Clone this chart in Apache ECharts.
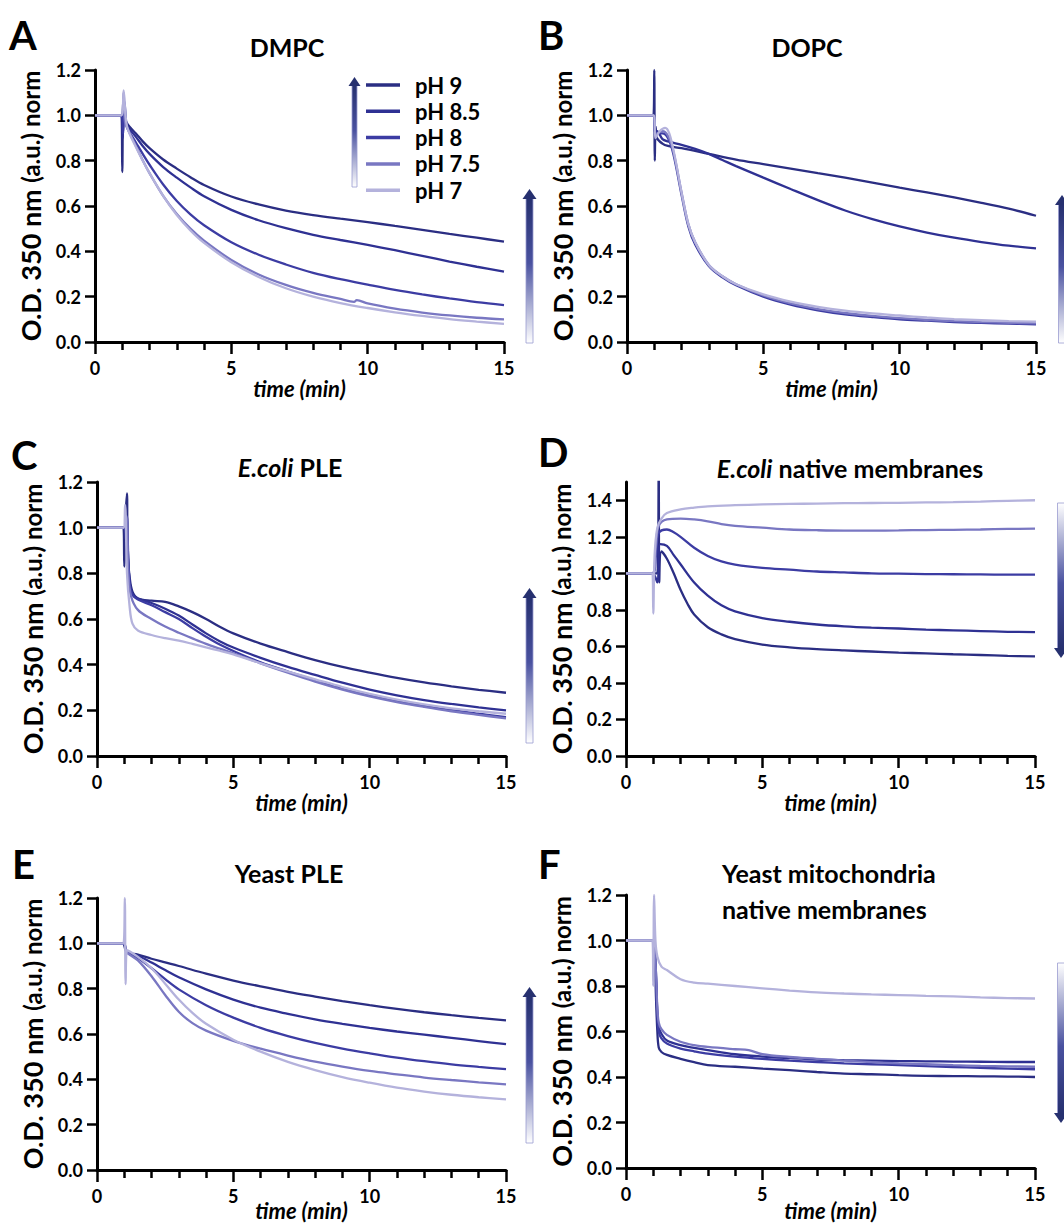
<!DOCTYPE html>
<html><head><meta charset="utf-8">
<script src="https://cdn.jsdelivr.net/npm/echarts@6/dist/echarts.min.js"></script>
<style>html,body{margin:0;padding:0;background:#fff}#c{width:1064px;height:1228px}</style>
</head><body><div id="c"></div><script>
// ---------- DATA ----------
const phNames = ['pH 9', 'pH 8.5', 'pH 8', 'pH 7.5', 'pH 7'];
const xTicks = [0, 5, 10, 15];
const yTicks = [0, 0.2, 0.4, 0.6, 0.8, 1.0, 1.2];
const yTicksD = [0, 0.2, 0.4, 0.6, 0.8, 1.0, 1.2, 1.4];
const panelTitles = ['DMPC', 'DOPC', '{i|E.coli} PLE', '{i|E.coli} native membranes', 'Yeast PLE', 'Yeast mitochondria\nnative membranes'];
const panelLetters = ['A', 'B', 'C', 'D', 'E', 'F'];

// A: DMPC  [time (min), O.D. norm]
const dmpc9 = [[0,1],[0.5,1],[0.97,1],[1.0,0.75],[1.04,1.08],[1.1,0.99],[1.2,0.96],[1.5,0.92],[1.75,0.885],[2,0.855],[2.5,0.805],[3,0.765],[3.5,0.727],[4,0.693],[5,0.642],[6,0.607],[7,0.58],[8,0.56],[9,0.544],[10,0.529],[11,0.512],[12,0.495],[13,0.477],[14,0.46],[15,0.443]];
const dmpc85 = [[0,1],[0.5,1],[0.97,1],[1.02,0.9],[1.06,1.05],[1.12,0.97],[1.2,0.95],[1.5,0.905],[1.75,0.865],[2,0.83],[2.5,0.772],[3,0.725],[3.5,0.682],[4,0.643],[5,0.583],[6,0.537],[7,0.502],[8,0.473],[9,0.45],[10,0.428],[11,0.405],[12,0.38],[13,0.355],[14,0.332],[15,0.31]];
const dmpc8 = [[0,1],[0.5,1],[0.97,1],[1.03,0.92],[1.08,1.06],[1.15,0.96],[1.2,0.94],[1.5,0.88],[1.75,0.83],[2,0.782],[2.5,0.695],[3,0.622],[3.5,0.563],[4,0.515],[5,0.44],[6,0.385],[7,0.342],[8,0.305],[9,0.277],[10,0.253],[11,0.23],[12,0.21],[13,0.192],[14,0.176],[15,0.163]];
const dmpc75 = [[0,1],[0.5,1],[0.97,1],[1.05,1.1],[1.1,0.97],[1.2,0.94],[1.5,0.865],[1.75,0.802],[2,0.745],[2.5,0.645],[3,0.565],[3.5,0.5],[4,0.447],[5,0.362],[6,0.298],[7,0.252],[8,0.217],[9,0.19],[9.5,0.177],[9.6,0.185],[10,0.17],[11,0.147],[12,0.13],[13,0.117],[14,0.107],[15,0.1]];
const dmpc7 = [[0,1],[0.5,1],[0.97,1],[1.05,1.11],[1.12,1.0],[1.2,0.94],[1.5,0.86],[1.75,0.8],[2,0.745],[2.5,0.645],[3,0.56],[3.5,0.492],[4,0.437],[5,0.352],[6,0.287],[7,0.237],[8,0.2],[9,0.172],[10,0.15],[11,0.131],[12,0.115],[13,0.101],[14,0.09],[15,0.08]];

// B: DOPC
const dopc9 = [[0,1],[0.5,1],[0.97,1],[1.0,1.2],[1.02,0.8],[1.05,0.95],[1.1,0.9],[1.3,0.875],[1.5,0.865],[2,0.855],[3,0.83],[4,0.805],[5,0.785],[6,0.765],[7,0.745],[8,0.725],[9,0.703],[10,0.681],[11,0.66],[12,0.638],[13,0.614],[14,0.588],[15,0.557]];
const dopc85 = [[0,1],[0.5,1],[0.97,1],[1.03,0.92],[1.1,0.93],[1.3,0.895],[1.5,0.885],[2,0.87],[2.5,0.852],[3,0.83],[3.5,0.803],[4,0.776],[5,0.725],[6,0.675],[7,0.626],[8,0.58],[9,0.542],[10,0.51],[11,0.483],[12,0.46],[13,0.441],[14,0.425],[15,0.413]];
const dopc8 = [[0,1],[0.5,1],[0.97,1],[1.03,0.93],[1.1,0.92],[1.3,0.92],[1.5,0.9],[1.7,0.83],[2,0.65],[2.25,0.51],[2.5,0.43],[3,0.335],[3.5,0.285],[4,0.25],[5,0.2],[6,0.165],[7,0.14],[8,0.122],[9,0.11],[10,0.1],[11,0.094],[12,0.088],[13,0.084],[14,0.081],[15,0.078]];
const dopc75 = [[0,1],[0.5,1],[0.97,1],[1.04,0.9],[1.1,0.92],[1.3,0.93],[1.5,0.91],[1.7,0.84],[2,0.66],[2.25,0.52],[2.5,0.44],[3,0.34],[3.5,0.29],[4,0.255],[5,0.205],[6,0.17],[7,0.145],[8,0.128],[9,0.115],[10,0.105],[11,0.098],[12,0.092],[13,0.088],[14,0.085],[15,0.082]];
const dopc7 = [[0,1],[0.5,1],[0.97,1],[1.05,0.9],[1.2,0.93],[1.4,0.945],[1.55,0.92],[1.75,0.82],[2,0.66],[2.25,0.52],[2.5,0.44],[3,0.34],[3.5,0.29],[4,0.255],[5,0.21],[6,0.178],[7,0.155],[8,0.138],[9,0.126],[10,0.117],[11,0.108],[12,0.101],[13,0.096],[14,0.092],[15,0.09]];

// C: E.coli PLE
const ecple9 = [[0,1],[0.5,1],[0.97,1],[1.0,0.83],[1.05,1.05],[1.1,1.15],[1.12,0.9],[1.2,0.78],[1.3,0.72],[1.5,0.69],[2,0.68],[2.5,0.675],[3,0.655],[3.5,0.63],[4,0.6],[4.5,0.566],[5,0.537],[6,0.492],[7,0.455],[8,0.42],[9,0.39],[10,0.365],[11,0.342],[12,0.322],[13,0.305],[14,0.29],[15,0.277]];
const ecple85 = [[0,1],[0.5,1],[0.97,1],[1.05,0.95],[1.1,1.05],[1.15,0.85],[1.2,0.76],[1.3,0.71],[1.5,0.69],[2,0.67],[2.5,0.645],[3,0.615],[3.5,0.576],[4,0.537],[4.5,0.503],[5,0.475],[6,0.43],[7,0.39],[8,0.355],[9,0.321],[10,0.291],[11,0.266],[12,0.245],[13,0.228],[14,0.213],[15,0.2]];
const ecple8 = [[0,1],[0.5,1],[0.97,1],[1.1,0.95],[1.2,0.75],[1.3,0.705],[1.5,0.685],[2,0.66],[2.5,0.63],[3,0.6],[3.5,0.56],[4,0.522],[4.5,0.488],[5,0.46],[6,0.41],[7,0.37],[8,0.332],[9,0.297],[10,0.266],[11,0.241],[12,0.22],[13,0.201],[14,0.185],[15,0.17]];
const ecple75 = [[0,1],[0.5,1],[0.97,1],[1.08,1.05],[1.15,0.8],[1.25,0.7],[1.5,0.64],[2,0.6],[2.5,0.567],[3,0.54],[3.5,0.515],[4,0.491],[4.5,0.47],[5,0.45],[6,0.406],[7,0.365],[8,0.326],[9,0.291],[10,0.261],[11,0.236],[12,0.215],[13,0.196],[14,0.18],[15,0.165]];
const ecple7 = [[0,1],[0.5,1],[0.97,1],[1.03,1.1],[1.1,0.8],[1.2,0.65],[1.3,0.58],[1.5,0.55],[2,0.53],[2.5,0.516],[3,0.505],[3.5,0.491],[4,0.476],[4.5,0.461],[5,0.445],[6,0.406],[7,0.37],[8,0.336],[9,0.302],[10,0.272],[11,0.247],[12,0.226],[13,0.209],[14,0.196],[15,0.185]];

// D: E.coli native membranes
const ecnm9 = [[0,1],[0.5,1],[0.97,1],[1.15,1.0],[1.2,1.6],[1.22,0.95],[1.3,1.12],[1.5,1.08],[1.75,1.0],[2,0.91],[2.25,0.835],[2.5,0.775],[3,0.705],[3.5,0.666],[4,0.64],[5,0.61],[6,0.595],[7,0.585],[8,0.578],[9,0.572],[10,0.566],[11,0.562],[12,0.557],[13,0.553],[14,0.548],[15,0.545]];
const ecnm85 = [[0,1],[0.5,1],[0.97,1],[1.15,0.95],[1.25,1.16],[1.5,1.15],[1.75,1.1],[2,1.05],[2.5,0.95],[3,0.878],[3.5,0.825],[4,0.792],[5,0.755],[6,0.735],[7,0.72],[8,0.71],[9,0.703],[10,0.698],[11,0.692],[12,0.688],[13,0.684],[14,0.68],[15,0.678]];
const ecnm8 = [[0,1],[0.5,1],[0.97,1],[1.1,1.1],[1.2,1.22],[1.5,1.24],[1.75,1.225],[2,1.2],[2.5,1.14],[3,1.095],[3.5,1.065],[4,1.048],[5,1.03],[6,1.02],[7,1.01],[8,1.005],[9,1.0],[10,0.998],[11,0.996],[12,0.995],[13,0.994],[14,0.993],[15,0.993]];
const ecnm75 = [[0,1],[0.5,1],[0.97,1],[1.1,1.15],[1.2,1.26],[1.5,1.295],[2,1.3],[2.5,1.295],[3,1.285],[3.5,1.27],[4,1.26],[5,1.25],[6,1.24],[7,1.236],[8,1.234],[9,1.234],[10,1.235],[11,1.237],[12,1.238],[13,1.24],[14,1.243],[15,1.245]];
const ecnm7 = [[0,1],[0.5,1],[0.97,1],[1.0,0.78],[1.05,1.1],[1.15,1.25],[1.3,1.3],[1.5,1.33],[2,1.35],[2.5,1.36],[3,1.367],[4,1.373],[5,1.377],[6,1.38],[7,1.382],[8,1.384],[9,1.385],[10,1.386],[11,1.388],[12,1.39],[13,1.393],[14,1.397],[15,1.4]];

// E: Yeast PLE
const yple9 = [[0,1],[0.5,1],[0.97,1],[1.0,0.99],[1.1,0.96],[1.5,0.95],[2,0.932],[2.5,0.916],[3,0.9],[4,0.866],[5,0.836],[6,0.81],[7,0.786],[8,0.765],[9,0.745],[10,0.727],[11,0.711],[12,0.696],[13,0.683],[14,0.671],[15,0.66]];
const yple85 = [[0,1],[0.5,1],[0.97,1],[1.1,0.96],[1.5,0.945],[2,0.915],[2.5,0.882],[3,0.85],[4,0.797],[5,0.752],[6,0.716],[7,0.689],[8,0.665],[9,0.645],[10,0.627],[11,0.611],[12,0.597],[13,0.583],[14,0.569],[15,0.555]];
const yple8 = [[0,1],[0.5,1],[0.97,1],[1.1,0.96],[1.5,0.935],[2,0.89],[2.5,0.842],[3,0.797],[4,0.727],[5,0.672],[6,0.627],[7,0.591],[8,0.561],[9,0.536],[10,0.515],[11,0.496],[12,0.48],[13,0.466],[14,0.455],[15,0.445]];
const yple75 = [[0,1],[0.5,1],[0.97,1],[1.1,0.96],[1.5,0.925],[2,0.855],[2.5,0.772],[3,0.698],[3.5,0.648],[4,0.615],[5,0.57],[6,0.535],[7,0.505],[8,0.478],[9,0.456],[10,0.437],[11,0.422],[12,0.408],[13,0.397],[14,0.387],[15,0.378]];
const yple7 = [[0,1],[0.5,1],[0.97,1],[1.02,1.2],[1.05,0.82],[1.1,0.97],[1.5,0.94],[2,0.89],[2.5,0.822],[3,0.752],[3.5,0.693],[4,0.645],[5,0.575],[6,0.522],[7,0.477],[8,0.441],[9,0.41],[10,0.385],[11,0.363],[12,0.346],[13,0.332],[14,0.321],[15,0.312]];

// F: Yeast mitochondria native membranes
const ymnm9 = [[0,1],[0.5,1],[0.97,1],[1.05,0.95],[1.1,0.75],[1.15,0.6],[1.2,0.53],[1.3,0.51],[1.5,0.497],[2,0.48],[2.5,0.465],[3,0.452],[4,0.445],[5,0.437],[6,0.43],[7,0.422],[8,0.415],[9,0.412],[10,0.408],[11,0.405],[12,0.404],[13,0.403],[14,0.402],[15,0.4]];
const ymnm85 = [[0,1],[0.5,1],[0.97,1],[1.08,0.9],[1.15,0.68],[1.2,0.62],[1.3,0.59],[1.5,0.56],[2,0.54],[2.5,0.528],[3,0.518],[4,0.5],[5,0.49],[6,0.483],[7,0.477],[8,0.474],[9,0.472],[10,0.47],[11,0.469],[12,0.468],[13,0.467],[14,0.466],[15,0.466]];
const ymnm8 = [[0,1],[0.5,1],[0.97,1],[1.08,0.88],[1.15,0.67],[1.2,0.6],[1.3,0.57],[1.5,0.547],[2,0.525],[2.5,0.513],[3,0.503],[4,0.49],[5,0.48],[6,0.472],[7,0.466],[8,0.46],[9,0.456],[10,0.452],[11,0.448],[12,0.444],[13,0.44],[14,0.437],[15,0.434]];
const ymnm75 = [[0,1],[0.5,1],[0.97,1],[1.08,0.9],[1.15,0.7],[1.2,0.64],[1.3,0.61],[1.5,0.585],[2,0.555],[2.5,0.54],[3,0.532],[4,0.522],[4.5,0.518],[5,0.5],[6,0.488],[7,0.48],[8,0.472],[9,0.465],[10,0.46],[11,0.456],[12,0.452],[13,0.449],[14,0.447],[15,0.445]];
const ymnm7 = [[0,1],[0.5,1],[0.97,1],[1.0,0.8],[1.03,1.2],[1.08,1.0],[1.15,0.93],[1.3,0.885],[1.5,0.87],[2,0.83],[2.5,0.815],[3,0.81],[4,0.8],[5,0.79],[6,0.78],[7,0.772],[8,0.767],[9,0.763],[10,0.76],[11,0.757],[12,0.754],[13,0.75],[14,0.747],[15,0.745]];

const panelSeries = [
  [dmpc9, dmpc85, dmpc8, dmpc75, dmpc7],
  [dopc9, dopc85, dopc8, dopc75, dopc7],
  [ecple9, ecple85, ecple8, ecple75, ecple7],
  [ecnm9, ecnm85, ecnm8, ecnm75, ecnm7],
  [yple9, yple85, yple8, yple75, yple7],
  [ymnm9, ymnm85, ymnm8, ymnm75, ymnm7]
];
const panelYMax = [1.2, 1.2, 1.2, 1.5, 1.2, 1.2];
const panelYTicks = [yTicks, yTicks, yTicks, yTicksD, yTicks, yTicks];

// ---------- STYLE / LAYOUT ----------
const FONT = 'Lato';
const phColors = ['#2b2e83', '#2f3193', '#3c3ca3', '#7977c2', '#b4b2dc'];
const grids = [
  {left: 95, top: 70, width: 409, height: 272},
  {left: 627, top: 70, width: 409, height: 272},
  {left: 97, top: 482, width: 409, height: 274},
  {left: 626, top: 482, width: 409, height: 274},
  {left: 97, top: 898, width: 409, height: 272},
  {left: 626, top: 895, width: 409, height: 273}
];
const xNameGaps = [35, 35, 35, 35, 29, 31];
const black = '#000';

const option = {
  backgroundColor: '#fff',
  animation: false,
  grid: grids.map(g => Object.assign({containLabel: false, outerBoundsMode: 'none'}, g)),
  xAxis: grids.map((g, i) => ({
    type: 'value', gridIndex: i, min: xTicks[0], max: xTicks[xTicks.length - 1], interval: 5,
    axisLine: {onZero: false, lineStyle: {color: black, width: 3}},
    axisTick: {length: 12, lineStyle: {color: black, width: 2.5}},
    minorTick: {show: true, splitNumber: 5, length: 8, lineStyle: {color: black, width: 2.5}},
    splitLine: {show: false}, minorSplitLine: {show: false},
    axisLabel: {color: black, fontFamily: FONT, fontWeight: 'bold', fontSize: 18, margin: 17},
    name: 'time (min)', nameLocation: 'middle', nameGap: xNameGaps[i], nameMoveOverlap: false,
    nameTextStyle: {color: black, fontFamily: FONT, fontWeight: 'bold', fontStyle: 'italic', fontSize: 22, lineHeight: 22}
  })),
  yAxis: grids.map((g, i) => ({
    type: 'value', gridIndex: i, min: 0, max: panelYMax[i], interval: 0.2,
    axisLine: {show: true, lineStyle: {color: black, width: 3}},
    axisTick: {show: true, length: 10, lineStyle: {color: black, width: 2.5}, customValues: panelYTicks[i]},
    splitLine: {show: false},
    axisLabel: {color: black, fontFamily: FONT, fontWeight: 'bold', fontSize: 18, margin: 14,
      customValues: panelYTicks[i], formatter: v => v.toFixed(1)},
    name: '{a|O.D. 350 nm} {b|(a.u.) norm}', nameLocation: 'middle', nameGap: 51, nameRotate: 90, nameMoveOverlap: false,
    nameTextStyle: {color: black, fontFamily: FONT, fontWeight: 'bold', fontSize: 27,
      rich: {a: {fontFamily: FONT, fontWeight: 'bold', fontSize: 27, color: black},
             b: {fontFamily: FONT, fontWeight: 'bold', fontSize: 24, color: black}}}
  })),
  legend: {
    data: phNames, orient: 'vertical', left: 366, top: 74, padding: 0,
    itemWidth: 34, itemHeight: 3.5, itemGap: 4.3, icon: 'rect', selectedMode: false,
    textStyle: {color: black, fontFamily: FONT, fontWeight: 'bold', fontSize: 22, lineHeight: 20, padding: [0, 0, 0, 10]}
  },
  series: [],
  graphic: []
};

panelSeries.forEach((list, p) => {
  list.forEach((data, k) => {
    option.series.push({
      type: 'line', name: phNames[k], xAxisIndex: p, yAxisIndex: p, data: data,
      symbol: 'none', smooth: 0.35, clip: true, silent: true,
      lineStyle: {color: phColors[k], width: 2.3}, itemStyle: {color: phColors[k]},
      emphasis: {disabled: true}
    });
  });
});

// Titles and panel letters (graphic text)
const titlePos = [
  {x: 287, y: 47, align: 'center'}, {x: 807, y: 47, align: 'center'},
  {x: 290, y: 467, align: 'center'}, {x: 850, y: 468, align: 'center'},
  {x: 289, y: 873, align: 'center'}, {x: 722, y: 891, align: 'left'}
];
const letterPos = [{x: 9, y: 35}, {x: 538, y: 35}, {x: 11, y: 455}, {x: 538, y: 452}, {x: 12, y: 864}, {x: 538, y: 864}];
titlePos.forEach((tp, i) => {
  option.graphic.push({
    type: 'text', x: tp.x, y: tp.y, silent: true,
    style: {text: panelTitles[i], x: 0, y: 0, align: tp.align, verticalAlign: 'middle',
      textAlign: tp.align, textVerticalAlign: 'middle',
      fontFamily: FONT, fontWeight: 'bold', fontSize: 25, lineHeight: 36, fill: black,
      rich: {i: {fontFamily: FONT, fontWeight: 'bold', fontStyle: 'italic', fontSize: 25, fill: black}}}
  });
});
letterPos.forEach((lp, i) => {
  option.graphic.push({
    type: 'text', x: lp.x, y: lp.y, silent: true,
    style: {text: panelLetters[i], align: 'left', verticalAlign: 'middle', textAlign: 'left', textVerticalAlign: 'middle',
      fontFamily: FONT, fontWeight: 'bold', fontSize: 40, fill: black}
  });
});

// Gradient arrows (decoration)
function arrow(cx, yTop, yBot, up, shaftW, headW, headH) {
  const dark = '#26306f', light = '#ffffff';
  const grad = up
    ? {type: 'linear', x: 0, y: 0, x2: 0, y2: 1, colorStops: [{offset: 0, color: dark}, {offset: 0.45, color: '#4a52a0'}, {offset: 1, color: light}]}
    : {type: 'linear', x: 0, y: 0, x2: 0, y2: 1, colorStops: [{offset: 0, color: light}, {offset: 0.55, color: '#4a52a0'}, {offset: 1, color: dark}]};
  const children = [];
  if (up) {
    children.push({type: 'rect', shape: {x: cx - shaftW / 2, y: yTop + headH - 1, width: shaftW, height: yBot - yTop - headH + 1},
      style: {fill: grad, stroke: '#9a9cd0', lineWidth: 0.8}});
    children.push({type: 'polygon', shape: {points: [[cx - headW / 2, yTop + headH], [cx, yTop], [cx + headW / 2, yTop + headH]]},
      style: {fill: dark}});
  } else {
    children.push({type: 'rect', shape: {x: cx - shaftW / 2, y: yTop, width: shaftW, height: yBot - yTop - headH + 1},
      style: {fill: grad, stroke: '#9a9cd0', lineWidth: 0.8}});
    children.push({type: 'polygon', shape: {points: [[cx - headW / 2, yBot - headH], [cx, yBot], [cx + headW / 2, yBot - headH]]},
      style: {fill: dark}});
  }
  return {type: 'group', silent: true, children: children};
}
option.graphic.push(arrow(354.5, 77, 187, true, 5, 12, 9));
option.graphic.push(arrow(529.5, 189, 343, true, 7, 14, 10));
option.graphic.push(arrow(1062, 195, 343, true, 7, 14, 10));
option.graphic.push(arrow(529.5, 588, 743, true, 7, 14, 10));
option.graphic.push(arrow(1061, 503, 658, false, 7, 14, 10));
option.graphic.push(arrow(529.5, 987, 1143, true, 7, 14, 10));
option.graphic.push(arrow(1061, 963, 1123, false, 7, 14, 10));

const chart = echarts.init(document.getElementById('c'), null, {renderer: 'svg', width: 1064, height: 1228});
chart.setOption(option);
</script></body></html>
